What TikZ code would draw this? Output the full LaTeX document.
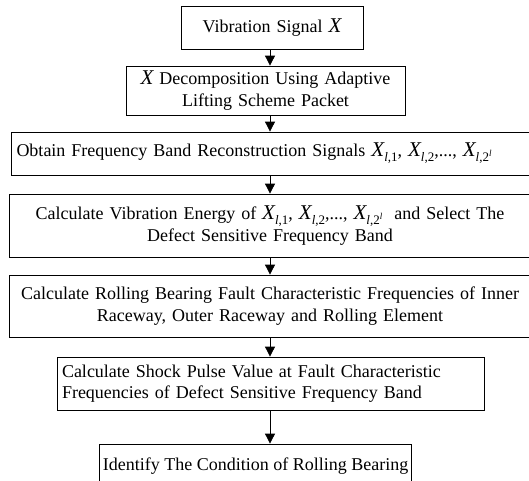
\documentclass[tikz,border=0pt]{standalone}
\usepackage{fontspec}
\setmainfont{Liberation Serif}
\usetikzlibrary{arrows.meta}

% signal symbols
\newcommand{\Xv}{{\fontsize{21}{22}\selectfont\itshape X}}
\newcommand{\Xl}[1]{\Xv\raisebox{-5pt}{\fontsize{13}{13}\selectfont #1}}
\newcommand{\lsup}{\raisebox{5pt}{\fontsize{9}{9}\selectfont\itshape l}}

\begin{document}
\begin{tikzpicture}[x=1pt, y=-1pt,
    stepbox/.style={draw, line width=0.8pt, font=\fontsize{18}{21.5}\selectfont, inner xsep=5pt, inner ysep=0pt},
    arrow/.style={-{Triangle[length=10pt,width=10pt]}, line width=0.8pt}
]
\useasboundingbox (0,0) rectangle (529,480);
\coordinate (axis) at (270,0);

\node[stepbox, text width=172, minimum height=43, align=center] (sig) at (272,27.5) {Vibration Signal \Xv};
\node[stepbox, text width=269, minimum height=49, align=center] (dec) at (265.5,90.5) {\Xv{} Decomposition Using Adaptive\\Lifting Scheme Packet};
\node[stepbox, text width=513, minimum height=43, align=left] (band) at (273,153.5) {Obtain Frequency Band Reconstruction Signals \Xl{\textit{l},1}, \Xl{\textit{l},2},..., \Xl{\textit{l},2\lsup}};
\node[stepbox, text width=512, minimum height=63, align=center] (energy) at (270,225.5) {Calculate Vibration Energy of \Xl{\textit{l},1}, \Xl{\textit{l},2},..., \Xl{\textit{l},2\lsup}\ \ and Select The\\Defect Sensitive Frequency Band};
\node[stepbox, text width=512, minimum height=62, align=center] (freq) at (270,306) {Calculate Rolling Bearing Fault Characteristic Frequencies of Inner\\Raceway, Outer Raceway and Rolling Element};
\node[stepbox, text width=417, minimum height=53, align=left] (spv) at (270.5,383.5) {Calculate Shock Pulse Value at Fault Characteristic\\Frequencies of Defect Sensitive Frequency Band};
\node[stepbox, inner xsep=3pt, minimum width=303, minimum height=45] (cond) at (255.5,466.5) {Identify The Condition of Rolling Bearing};

\draw[arrow] (axis |- sig.south) -- (axis |- dec.north);
\draw[arrow] (axis |- dec.south) -- (axis |- band.north);
\draw[arrow] (axis |- band.south) -- (axis |- energy.north);
\draw[arrow] (axis |- energy.south) -- (axis |- freq.north);
\draw[arrow] (axis |- freq.south) -- (axis |- spv.north);
\draw[arrow] (axis |- spv.south) -- (axis |- cond.north);
\end{tikzpicture}
\end{document}
